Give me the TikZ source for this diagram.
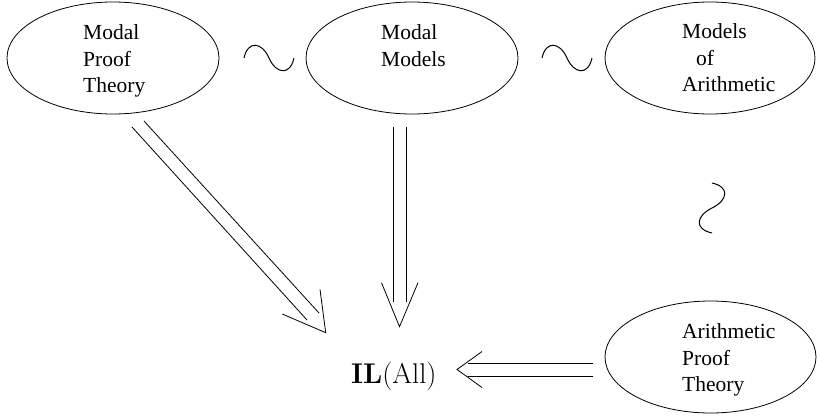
\documentclass[tikz,border=0pt]{standalone}
\usepackage{fontspec}
\newfontfamily\tms{Liberation Serif}
\usetikzlibrary{shapes.geometric}
\begin{document}
\begin{tikzpicture}[x=1pt,y=-1pt,
  oval/.style={ellipse,draw,inner sep=0pt,line width=0.8pt},
  lbl/.style={anchor=north west,inner sep=0pt,align=left,font=\tms\fontsize{21.5}{26.5}\selectfont},
  ln/.style={line width=0.8pt},
  wave/.style={line width=1pt}]
\useasboundingbox (0,0) rectangle (817,418);
% ellipses
\node[oval,minimum width=212pt,minimum height=112pt] (E1) at (113,58) {};
\node[oval,minimum width=212pt,minimum height=112pt] (E2) at (412,58) {};
\node[oval,minimum width=210pt,minimum height=112pt] (E3) at (710,58) {};
\node[oval,minimum width=211pt,minimum height=112pt] (E4) at (710.5,357) {};
% labels
\node[lbl] (t1) at (83,24.4) {Modal\\Proof\\Theory};
\node[lbl] (t2) at (381,24.4) {Modal\\Models};
\node[lbl] (t3) at (682,23.4) {Models\\\hspace*{14pt}of\\Arithmetic};
\node[lbl] (t4) at (682,323.4) {Arithmetic\\Proof\\Theory};
\node[anchor=base west,inner sep=0pt,font=\fontsize{28.5}{34}\selectfont] (il) at (351,383) {{\bfseries IL}(All)};
% tildes
\draw[wave] (244,58) .. controls (248,40) and (262,42) .. (269,58) .. controls (276,74) and (290,76) .. (294,58);
\draw[wave] (542,58) .. controls (546,40) and (560,42) .. (567,58) .. controls (574,74) and (588,76) .. (592,58);
\draw[wave] (712,183) .. controls (730,187) and (728,200) .. (712,208) .. controls (696,216) and (694,229) .. (712,233);
% diagonal double arrow E1 -> il
\coordinate (a1s) at (132,127); \coordinate (a1e) at (307,320);
\coordinate (b1s) at (144,121); \coordinate (b1e) at (319,313);
\coordinate (h1) at (325.7,332.7);
\draw[ln] (a1s) -- (a1e);
\draw[ln] (b1s) -- (b1e);
\draw[ln] (282.3,314) -- (h1) -- (320,289.3);
% vertical double arrow E2 -> il
\coordinate (a2s) at (393,127); \coordinate (a2e) at (393,302);
\coordinate (b2s) at (406,127); \coordinate (b2e) at (406,302);
\coordinate (h2) at (399.5,326.7);
\draw[ln] (a2s) -- (a2e);
\draw[ln] (b2s) -- (b2e);
\draw[ln] (381.5,282.7) -- (h2) -- (418,282.7);
% horizontal double arrow E4 -> il
\coordinate (a3s) at (593,363); \coordinate (a3e) at (468,363);
\coordinate (b3s) at (593,376); \coordinate (b3e) at (468,376);
\coordinate (h3) at (457,369.5);
\draw[ln] (a3s) -- (a3e);
\draw[ln] (b3s) -- (b3e);
\draw[ln] (482,351.5) -- (h3) -- (482,387.5);
\end{tikzpicture}
\end{document}
